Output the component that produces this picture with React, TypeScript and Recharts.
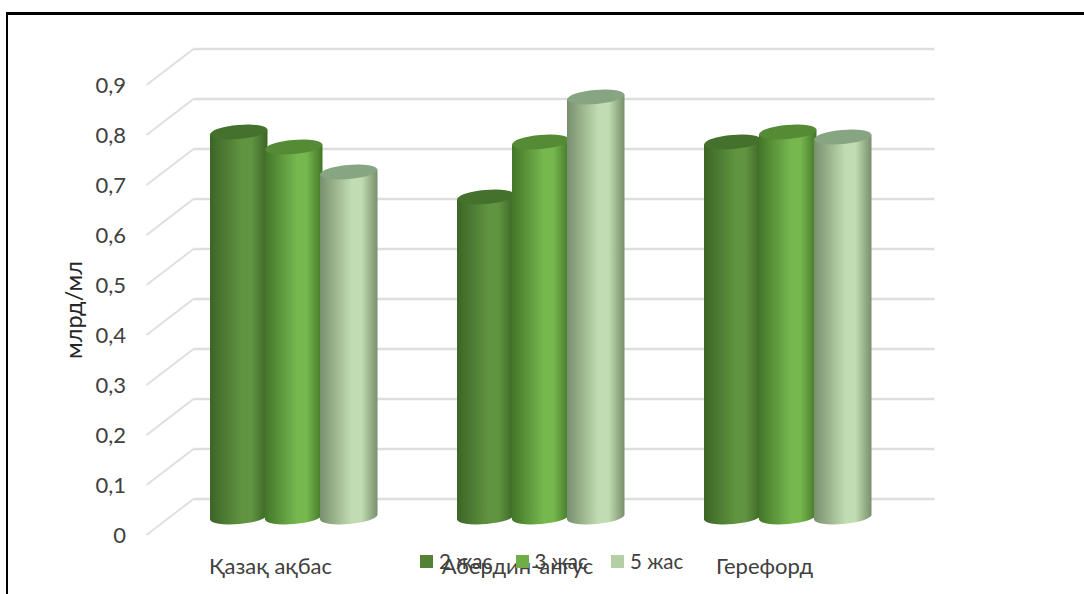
import { BarChart, Bar, XAxis, YAxis, CartesianGrid, Legend } from "recharts";

const breeds = ["Қазақ ақбас", "Абердин-ангус", "Герефорд"];
const age2 = [0.77, 0.64, 0.75];
const age3 = [0.74, 0.75, 0.77];
const age5 = [0.69, 0.84, 0.76];
const yTicks = [0, 0.1, 0.2, 0.3, 0.4, 0.5, 0.6, 0.7, 0.8, 0.9];

const data = breeds.map((name, i) => ({
  name,
  age2: age2[i],
  age3: age3[i],
  age5: age5[i],
}));

const FONT = "Lato, 'Open Sans', sans-serif";
const TEXT = "#404040";
const GRID = "#dedede";
// half of the floor depth, in px
const DEPTH_X = 23.5;
const DEPTH_Y = 18;
const RY = 7;
const TILT = -5;

const palette: Record<string, { edge: string; mid: string; top: string; swatch: string }> = {
  age2: { edge: "#3c6526", mid: "#609440", top: "#44722c", swatch: "#548235" },
  age3: { edge: "#437629", mid: "#76b74e", top: "#558b35", swatch: "#70ad47" },
  age5: { edge: "#788f6c", mid: "#c1dcb2", top: "#87a582", swatch: "#b4cfa3" },
};

const Cylinder = (props: any) => {
  const { x, y, width, height, dataKey } = props;
  const rx = width / 2;
  const cx = x + rx;
  const base = y + height;
  const dy = rx * Math.sin((-TILT * Math.PI) / 180);
  const side = `M${x},${y + dy} L${x},${base + dy} A${rx},${RY} ${TILT} 0 0 ${x + width},${base - dy} L${x + width},${y - dy} Z`;
  return (
    <g>
      <path d={side} fill={`url(#side-${dataKey})`} />
      <ellipse
        cx={cx}
        cy={y}
        rx={rx}
        ry={RY}
        fill={palette[dataKey].top}
        transform={`rotate(${TILT} ${cx} ${y})`}
      />
    </g>
  );
};

// wall line plus the diagonal running down to the axis
const FloorLine = (props: any) => {
  const { x1, x2, y1 } = props;
  return (
    <g>
      <line x1={x1 - DEPTH_X} y1={y1 + DEPTH_Y} x2={x1 + DEPTH_X} y2={y1 - DEPTH_Y} stroke={GRID} strokeWidth={1.8} />
      <line x1={x1 + DEPTH_X} y1={y1 - DEPTH_Y} x2={x2 + DEPTH_X} y2={y1 - DEPTH_Y} stroke={GRID} strokeWidth={2.4} />
    </g>
  );
};

const ValueTick = (props: any) => {
  const { x, y, payload } = props;
  return (
    <text x={x} y={y + DEPTH_Y} dy={8} textAnchor="end" fontSize={22} fontFamily={FONT} fill={TEXT}>
      {String(payload.value).replace(".", ",")}
    </text>
  );
};

const BreedTick = (props: any) => {
  const { x, y, payload } = props;
  return (
    <text x={x - 23} y={y} dy={49} textAnchor="middle" fontSize={22} fontFamily={FONT} fill={TEXT}>
      {payload.value}
    </text>
  );
};

const AgeLegend = ({ payload }: any) => (
  <div style={{ display: "flex", fontFamily: FONT, fontSize: 20.5, color: TEXT, lineHeight: "22px" }}>
    {(payload || []).map((item: any) => (
      <div key={item.value} style={{ display: "flex", alignItems: "center", width: 95.5 }}>
        <span style={{ width: 13, height: 13, background: item.color, marginRight: 6 }} />
        {item.value}
      </div>
    ))}
  </div>
);

const AxisTitle = () => (
  <text
    transform="translate(82 310) rotate(-90)"
    textAnchor="middle"
    fontSize={23.5}
    fontFamily={FONT}
    fill="#262626"
  >
    млрд/мл
  </text>
);

export default function App() {
  return (
    <div style={{ position: "absolute", left: 0, top: 0, width: 1084, height: 594, background: "#fff", overflow: "hidden" }}>
      <div
        style={{
          position: "absolute",
          left: 6,
          top: 12,
          right: -10,
          bottom: -10,
          borderLeft: "2.5px solid #000",
          borderTop: "3px solid #000",
        }}
      />
      <BarChart
        width={1084}
        height={594}
        data={data}
        margin={{ top: 67, right: 173, bottom: 0, left: 0 }}
        barSize={57.5}
        barGap={-2.5}
        style={{ position: "absolute", left: 0, top: 0 }}
      >
        <defs>
          {Object.entries(palette).map(([key, c]) => (
            <linearGradient key={key} id={`side-${key}`} x1="0" y1="0" x2="1" y2="0">
              <stop offset="0%" stopColor={c.edge} />
              <stop offset="55%" stopColor={c.mid} />
              <stop offset="72%" stopColor={c.mid} />
              <stop offset="100%" stopColor={c.edge} />
            </linearGradient>
          ))}
        </defs>
        <CartesianGrid vertical={false} horizontal={(p: any) => <FloorLine key={p.key} {...p} />} />
        <XAxis
          dataKey="name"
          height={77}
          axisLine={false}
          tickLine={false}
          tick={<BreedTick />}
          interval={0}
        />
        <YAxis
          width={170}
          domain={[0, 0.9]}
          ticks={yTicks}
          axisLine={false}
          tickLine={false}
          tickMargin={0}
          tickSize={44}
          tick={<ValueTick />}
          label={<AxisTitle />}
        />
        <Legend
          layout="horizontal"
          verticalAlign="middle"
          align="center"
          content={<AgeLegend />}
          wrapperStyle={{ position: "absolute", left: 420, top: 550, width: 300, height: 22 }}
        />
        <Bar dataKey="age2" name="2 жас" fill={palette.age2.swatch} shape={<Cylinder />} isAnimationActive={false} />
        <Bar dataKey="age3" name="3 жас" fill={palette.age3.swatch} shape={<Cylinder />} isAnimationActive={false} />
        <Bar dataKey="age5" name="5 жас" fill={palette.age5.swatch} shape={<Cylinder />} isAnimationActive={false} />
      </BarChart>
    </div>
  );
}
